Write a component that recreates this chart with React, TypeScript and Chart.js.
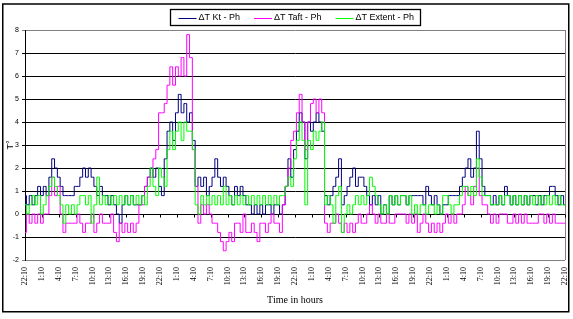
import { useEffect, useRef } from "react";
import { Chart, registerables } from "chart.js";

Chart.register(...registerables);

// ---- categories: 30-minute samples starting at 22:10, over four days ----
const START_MINUTES = 22 * 60 + 10;
const STEP_MINUTES = 30;
const SAMPLE_COUNT = 193;
const LABEL_EVERY = 6; // one tick label every 3 hours
const TIME_LABELS: string[] = [];
for (let i = 0; i < SAMPLE_COUNT; i++) {
  const m = START_MINUTES + i * STEP_MINUTES;
  const h = Math.floor(m / 60) % 24;
  const mm = m % 60;
  TIME_LABELS.push(`${h}:${mm.toString().padStart(2, "0")}`);
}

// ---- axis ----
const Y_MIN = -2;
const Y_MAX = 8;
const Y_STEP = 1;

// ---- series (°) ----
const KT_PH = [
  0.8, 0.4, 0.8, 0.4, 0.8, 1.2, 0.8, 1.2, 0.8, 1.6,
  2.4, 2.0, 1.6, 1.2, 0.8, 0.8, 0.8, 0.8, 1.2, 1.2,
  1.6, 2.0, 1.6, 2.0, 1.6, 1.2, 0.8, 1.2, 0.8, 0.8,
  0.4, 0.8, 0.4, 0.0, -0.4, 0.4, 0.8, 0.4, 0.8, 0.4,
  0.4, 0.4, 0.8, 1.2, 1.6, 2.0, 1.6, 2.0, 1.2, 0.8,
  2.4, 3.6, 4.0, 3.2, 4.4, 5.2, 4.4, 4.8, 4.0, 4.4,
  3.2, 1.2, 1.6, 1.2, 1.6, 0.8, 1.2, 1.6, 2.4, 1.6,
  1.2, 1.6, 1.2, 0.8, 0.4, 1.2, 0.8, 1.2, 0.8, 0.4,
  0.4, 0.0, 0.4, 0.0, 0.4, 0.0, 0.4, 0.4, 0.0, 0.4,
  0.4, 0.0, 0.4, 1.2, 2.4, 1.6, 2.8, 3.6, 4.4, 4.0,
  2.4, 4.0, 3.6, 4.0, 4.4, 4.0, 3.6, 0.8, 0.4, 0.8,
  1.2, 1.6, 2.4, 0.4, 0.8, 1.2, 1.6, 2.0, 1.2, 1.6,
  1.6, 1.2, 0.8, 0.4, 0.8, 0.4, 0.8, 0.0, 0.4, 0.0,
  0.8, 0.4, 0.8, 0.4, 0.8, 0.8, 0.4, 0.8, 0.8, 0.8,
  0.8, 0.8, 0.4, 1.2, 0.8, 0.4, 0.8, 0.4, 0.0, 0.4,
  0.4, 0.8, 0.8, 0.8, 0.8, 1.2, 1.6, 2.0, 2.4, 1.6,
  2.0, 3.6, 2.4, 1.2, 0.8, 0.8, 0.4, 0.8, 0.4, 0.8,
  0.4, 1.2, 0.8, 0.4, 0.8, 0.4, 0.8, 0.4, 0.8, 0.4,
  0.8, 0.8, 0.4, 0.8, 0.4, 0.8, 0.8, 1.2, 1.2, 0.8,
  0.4, 0.8, 0.4,
];

const TAFT_PH = [
  -0.8, 0.0, -0.4, 0.0, -0.4, 0.0, -0.4, 0.0, 0.0, 0.8,
  1.6, 0.8, 1.2, 0.0, -0.8, -0.4, -0.4, -0.4, -0.4, 0.0,
  -0.4, -0.8, -0.4, -0.4, 0.0, -0.8, -0.4, 0.0, -0.4, -0.4,
  -0.4, 0.0, -0.8, -1.2, -0.4, -0.8, -0.4, -0.8, -0.4, -0.8,
  -0.4, 0.4, 0.4, 1.2, 1.6, 1.6, 2.4, 2.8, 4.4, 4.4,
  4.8, 5.6, 6.4, 5.6, 6.4, 6.0, 6.8, 6.0, 7.8, 6.8,
  2.8, 1.2, -0.4, 0.4, 0.0, 0.4, 0.0, -0.4, -0.4, -0.8,
  -1.2, -1.6, -1.2, -0.8, -1.2, -0.4, -0.4, -0.8, 0.0, -0.8,
  -0.8, -0.4, -0.8, -1.2, -0.4, -0.4, -0.8, -0.4, 0.0, -0.4,
  -0.4, -0.8, 0.4, 1.2, 2.0, 3.2, 3.6, 4.4, 5.2, 4.0,
  2.8, 4.0, 4.8, 5.0, 4.4, 5.0, 4.4, -0.4, -0.8, -0.4,
  -0.4, 0.0, -0.4, -0.8, -0.4, -0.8, -0.4, -0.8, -0.4, 0.0,
  -0.4, -0.4, 0.0, 0.4, 0.0, -0.4, 0.0, -0.4, -0.4, 0.0,
  -0.4, -0.4, 0.0, 0.0, 0.0, 0.0, -0.4, 0.0, -0.4, 0.0,
  -0.8, -0.4, 0.0, -0.4, -0.8, -0.4, -0.8, -0.4, -0.8, -0.4,
  0.0, -0.4, 0.0, -0.4, 0.0, 0.0, 0.4, 1.2, 0.8, 0.4,
  1.2, 2.0, 0.8, 0.4, 0.4, 0.0, -0.4, 0.0, -0.4, 0.0,
  0.0, 0.0, -0.4, -0.4, 0.0, -0.4, 0.0, -0.4, 0.0, -0.4,
  -0.4, -0.4, -0.4, 0.0, 0.0, -0.4, 0.0, -0.4, 0.0, -0.4,
  -0.4, -0.4, -0.4,
];

const EXTENT_PH = [
  0.4, 0.0, 0.4, 0.8, 0.4, 0.8, 0.0, 0.4, 0.8, 1.2,
  1.6, 1.2, 0.8, 0.4, -0.4, 0.4, 0.0, 0.4, 0.0, 0.4,
  0.8, 0.8, 0.4, 0.8, -0.4, 0.4, 1.6, 0.4, 0.8, 0.4,
  0.8, 0.4, 0.8, 0.4, 0.8, 0.4, 0.8, 0.4, 0.8, 0.4,
  0.8, 0.4, 0.8, 0.4, 1.2, 2.0, 1.2, 0.8, 2.0, 1.6,
  1.2, 2.8, 3.6, 2.8, 3.6, 4.0, 3.2, 4.0, 3.6, 3.6,
  2.8, 0.4, 0.0, 0.8, 0.4, 0.8, 0.4, 0.8, 0.4, 0.8,
  0.4, 1.2, 0.4, 0.8, 0.4, 0.8, 0.4, 0.8, 0.4, 0.8,
  0.4, 0.8, 0.4, 0.8, 0.4, 0.8, 0.4, 0.8, 0.4, 0.8,
  0.4, 0.8, 0.8, 1.2, 1.6, 1.2, 2.4, 3.2, 4.0, 3.2,
  0.4, 3.2, 2.8, 3.6, 3.2, 3.6, 4.0, 0.4, 0.8, 0.4,
  -0.4, 0.8, 1.2, -0.8, 0.0, 0.4, 0.0, 0.4, 0.8, 0.4,
  0.8, 0.4, 0.8, 1.6, 1.2, 0.8, 0.4, 0.0, 0.4, 0.0,
  0.8, 0.4, 0.8, 0.4, 0.8, 0.8, 0.4, 0.8, 0.0, 0.4,
  0.0, 0.4, 0.4, 0.0, 0.4, 0.4, 0.0, 0.4, 0.0, 0.8,
  0.8, 0.4, 0.0, 0.4, 0.4, 0.8, 1.2, 1.2, 0.8, 1.2,
  0.8, 2.4, 1.6, 0.8, 0.8, 0.8, 0.4, 0.4, 0.4, 0.8,
  0.4, 0.8, 0.8, 0.4, 0.8, 0.4, 0.8, 0.4, 0.8, 0.4,
  0.8, 0.4, 0.8, 0.4, 0.8, 0.4, 0.8, 0.4, 0.8, 0.4,
  0.8, 0.4, 0.4,
];

const SERIES_NAMES = ["\u0394T Kt - Ph", "\u0394T Taft - Ph", "\u0394T Extent - Ph"];
const SERIES_COLORS = ["#000080", "#FF00FF", "#00FF00"];

const SANS = '"Liberation Sans", Arial, sans-serif';
const SERIF = '"Liberation Serif", "Times New Roman", serif';

const framePlugin = {
  id: "frame",
  beforeDraw(chart: any) {
    const { ctx, width, height } = chart;
    ctx.save();
    ctx.fillStyle = "#ffffff";
    ctx.fillRect(0, 0, width, height);
    ctx.strokeStyle = "#000000";
    ctx.lineWidth = 1.5;
    ctx.strokeRect(2.75, 4, width - 7, height - 11.25);
    ctx.restore();
  },
  beforeDatasetsDraw(chart: any) {
    const { ctx, chartArea } = chart;
    const xs = chart.scales.x;
    const ys = chart.scales.y;
    ctx.save();
    // right border of plot area (grey)
    ctx.strokeStyle = "#808080";
    ctx.lineWidth = 1;
    const rx = Math.round(chartArea.right) + 0.5;
    ctx.beginPath();
    ctx.moveTo(rx, chartArea.top);
    ctx.lineTo(rx, chartArea.bottom);
    ctx.stroke();
    // category axis tick marks on the zero line
    const y0 = Math.round(ys.getPixelForValue(0)) + 0.5;
    ctx.strokeStyle = "#000000";
    ctx.beginPath();
    for (let i = 0; i < TIME_LABELS.length; i += LABEL_EVERY) {
      const x = Math.round(xs.getPixelForValue(i)) + 0.5;
      ctx.moveTo(x, y0);
      ctx.lineTo(x, y0 + 3);
    }
    ctx.stroke();
    ctx.restore();
  },
  afterDraw(chart: any) {
    const { ctx, chartArea } = chart;
    ctx.save();
    ctx.font = `9px ${SANS}`;
    const items = chart.data.datasets.map((d: any) => ({
      label: d.label as string,
      color: d.borderColor as string,
      w: ctx.measureText(d.label).width,
    }));
    const lineLen = 18, gap = 2, itemGap = 14, padL = 8, padR = 6;
    const content =
      items.reduce((s: number, it: any) => s + lineLen + gap + it.w, 0) +
      itemGap * (items.length - 1);
    const boxW = Math.round(content + padL + padR);
    const boxLeft = Math.round((chartArea.left + chartArea.right) / 2 - boxW / 2) + 0.5;
    const boxTop = 9.5;
    const boxH = 16;
    ctx.strokeStyle = "#000000";
    ctx.lineWidth = 1.3;
    ctx.strokeRect(boxLeft, boxTop, boxW, boxH);
    let x = boxLeft + padL;
    const cy = boxTop + boxH / 2;
    items.forEach((it: any) => {
      ctx.beginPath();
      ctx.strokeStyle = it.color;
      ctx.lineWidth = 1;
      ctx.moveTo(x, Math.round(cy) + 0.5);
      ctx.lineTo(x + lineLen, Math.round(cy) + 0.5);
      ctx.stroke();
      x += lineLen + gap;
      ctx.fillStyle = "#000000";
      ctx.textAlign = "left";
      ctx.textBaseline = "middle";
      ctx.fillText(it.label, x, cy);
      x += it.w + itemGap;
    });
    ctx.restore();
  },
};

export default function App() {
  const canvasRef = useRef<HTMLCanvasElement | null>(null);

  useEffect(() => {
    document.body.style.margin = "0";
    document.body.style.overflow = "hidden";
    const canvas = canvasRef.current;
    if (!canvas) return;
    const seriesValues = [KT_PH, TAFT_PH, EXTENT_PH];
    const drawOrder = [2, 1, 0]; // last series drawn on top
    const chart = new Chart(canvas, {
      type: "line",
      data: {
        labels: TIME_LABELS,
        datasets: seriesValues.map((vals, k) => ({
          label: SERIES_NAMES[k],
          data: vals,
          borderColor: SERIES_COLORS[k],
          backgroundColor: SERIES_COLORS[k],
          borderWidth: 1,
          pointRadius: 0,
          stepped: "middle" as const,
          fill: false,
          order: drawOrder[k],
        })),
      },
      options: {
        responsive: false,
        animation: false,
        layout: { padding: { top: 30, right: 8, left: 0, bottom: 0 } },
        plugins: {
          legend: { display: false },
          tooltip: { enabled: false },
          title: { display: false },
        },
        scales: {
          x: {
            type: "category",
            grid: { display: false, drawTicks: false },
            border: { display: false },
            ticks: {
              autoSkip: false,
              minRotation: 90,
              maxRotation: 90,
              padding: 7,
              color: "#000000",
              font: { family: SERIF, size: 8 },
              callback: (_v: any, i: number) => (i % LABEL_EVERY === 0 ? TIME_LABELS[i] : ""),
            },
            title: {
              display: true,
              text: "Time in hours",
              color: "#000000",
              font: { family: SERIF, size: 10 },
              padding: { top: 0, bottom: 13 },
            },
            afterFit: (scale: any) => {
              scale.height = 59;
              scale.paddingLeft = 0;
              scale.paddingRight = 0;
            },
          },
          y: {
            min: Y_MIN,
            max: Y_MAX,
            ticks: {
              stepSize: Y_STEP,
              padding: 3,
              color: "#000000",
              font: { family: SANS, size: 7 },
            },
            grid: {
              color: (c: any) =>
                c.tick && (c.tick.value === Y_MAX || c.tick.value === Y_MIN) ? "#808080" : "#000000",
              lineWidth: 1,
              tickLength: 3,
              drawTicks: true,
            },
            border: { display: true, color: "#000000", width: 1 },
            title: {
              display: true,
              text: "T°",
              color: "#000000",
              font: { family: SANS, size: 9 },
              padding: { top: 5, bottom: 0 },
            },
            afterFit: (scale: any) => {
              scale.width = 25;
            },
          },
        },
      },
      plugins: [framePlugin],
    });
    return () => chart.destroy();
  }, []);

  return (
    <div style={{ width: 573, height: 319 }}>
      <canvas ref={canvasRef} width={573} height={319} style={{ display: "block" }} />
    </div>
  );
}
